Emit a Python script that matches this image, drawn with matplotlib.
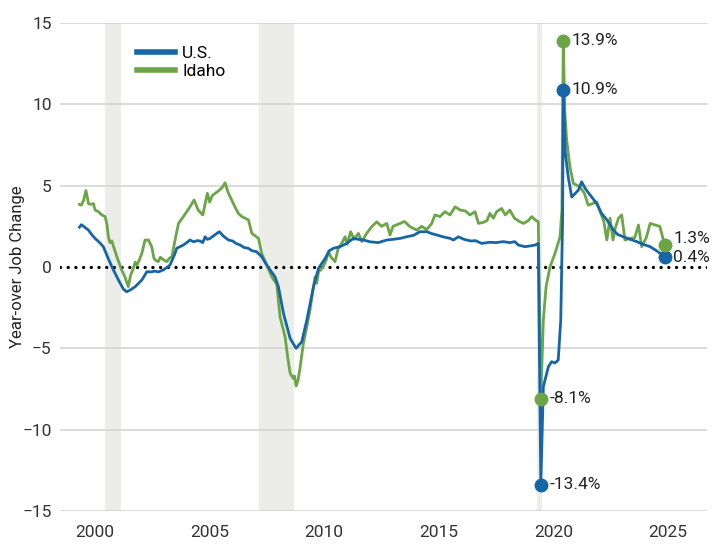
import matplotlib.pyplot as plt
import numpy as np

# year-over-year job change (%), positions
us_year = [1999.32, 1999.4, 1999.5, 1999.71, 1999.85, 2000.0, 2000.2, 2000.36, 2000.51, 2000.73,
           2001.02, 2001.24, 2001.38, 2001.55, 2001.75, 2002.04, 2002.26, 2002.46, 2002.6, 2002.76,
           2002.98, 2003.27, 2003.49, 2003.56, 2003.85, 2004.0, 2004.14, 2004.3, 2004.45, 2004.58,
           2004.7, 2004.8, 2004.9, 2005.02, 2005.2, 2005.42, 2005.6, 2005.82, 2006.0, 2006.15,
           2006.33, 2006.5, 2006.69, 2006.85, 2007.05, 2007.27, 2007.49, 2007.7, 2007.85, 2008.0,
           2008.22, 2008.51, 2008.77, 2009.02, 2009.24, 2009.53, 2009.75, 2010.04, 2010.22, 2010.4,
           2010.69, 2010.98, 2011.27, 2011.5, 2011.71, 2012.0, 2012.36, 2012.73, 2013.0, 2013.31,
           2013.6, 2013.9, 2014.18, 2014.47, 2014.7, 2014.91, 2015.2, 2015.49, 2015.64, 2015.85,
           2016.1, 2016.4, 2016.6, 2016.87, 2017.2, 2017.5, 2017.81, 2018.1, 2018.31, 2018.47,
           2018.76, 2019.0, 2019.2, 2019.34, 2019.45, 2019.56, 2019.78, 2019.92, 2020.07, 2020.21,
           2020.32, 2020.40, 2020.43, 2020.52, 2020.65, 2020.8, 2021.09, 2021.23, 2021.4, 2021.6,
           2021.89, 2022.1, 2022.33, 2022.62, 2022.8, 2023.05, 2023.35, 2023.64, 2023.9, 2024.22,
           2024.5, 2024.8, 2024.87]
us_val = [2.45, 2.6, 2.5, 2.27, 2.0, 1.76, 1.5, 1.25, 0.74, 0.02,
          -0.8, -1.37, -1.52, -1.4, -1.21, -0.8, -0.29, -0.3, -0.25, -0.3,
          -0.18, 0.12, 0.84, 1.15, 1.35, 1.5, 1.66, 1.55, 1.62, 1.6,
          1.5, 1.86, 1.7, 1.76, 1.95, 2.17, 1.9, 1.66, 1.6, 1.45,
          1.35, 1.2, 1.15, 1.0, 0.94, 0.63, 0.12, -0.3, -0.6, -1.21,
          -2.85, -4.38, -5.0, -4.59, -3.26, -1.21, -0.08, 0.53, 1.0, 1.15,
          1.25, 1.45, 1.76, 1.7, 1.66, 1.55, 1.5, 1.66, 1.7, 1.76,
          1.86, 1.95, 2.17, 2.17, 2.05, 1.97, 1.85, 1.76, 1.66, 1.86,
          1.7, 1.6, 1.62, 1.45, 1.52, 1.5, 1.56, 1.5, 1.56, 1.35,
          1.25, 1.3, 1.35, 1.45, -13.4, -7.36, -6.13, -5.82, -5.9, -5.72,
          -3.26, 2.9, 10.9, 7.0, 5.5, 4.3, 4.73, 5.24, 4.8, 4.43,
          3.9, 3.3, 2.9, 2.27, 2.0, 1.86, 1.7, 1.56, 1.4, 1.25,
          1.0, 0.7, 0.6]

id_year = [1999.32, 1999.4, 1999.5, 1999.6, 1999.66, 1999.71, 1999.8, 1999.93, 2000.0, 2000.15,
           2000.29, 2000.44, 2000.52, 2000.58, 2000.65, 2000.73, 2000.95, 2001.16, 2001.3, 2001.45,
           2001.55, 2001.67, 2001.75, 2001.82, 2001.92, 2002.04, 2002.18, 2002.33, 2002.47, 2002.57,
           2002.66, 2002.76, 2002.85, 2002.98, 2003.13, 2003.25, 2003.35, 2003.49, 2003.64, 2003.75,
           2003.85, 2004.0, 2004.14, 2004.32, 2004.5, 2004.7, 2004.9, 2005.0, 2005.12, 2005.24,
           2005.4, 2005.55, 2005.67, 2005.8, 2005.96, 2006.1, 2006.25, 2006.4, 2006.54, 2006.69,
           2006.84, 2007.0, 2007.13, 2007.27, 2007.49, 2007.71, 2007.85, 2007.93, 2008.07, 2008.29,
           2008.4, 2008.51, 2008.65, 2008.7, 2008.77, 2008.85, 2008.94, 2009.09, 2009.25, 2009.38,
           2009.5, 2009.6, 2009.67, 2009.75, 2009.82, 2009.96, 2010.1, 2010.18, 2010.3, 2010.47,
           2010.6, 2010.76, 2010.91, 2011.0, 2011.15, 2011.3, 2011.49, 2011.64, 2011.85, 2012.07,
           2012.29, 2012.5, 2012.73, 2012.87, 2013.0, 2013.31, 2013.5, 2013.74, 2014.04, 2014.25,
           2014.47, 2014.69, 2014.83, 2015.05, 2015.27, 2015.49, 2015.71, 2015.93, 2016.15, 2016.36,
           2016.58, 2016.73, 2016.95, 2017.1, 2017.23, 2017.38, 2017.52, 2017.74, 2017.9, 2018.1,
           2018.3, 2018.54, 2018.7, 2018.9, 2019.05, 2019.2, 2019.34, 2019.45, 2019.56, 2019.68,
           2019.85, 2020.07, 2020.29, 2020.37, 2020.43, 2020.5, 2020.58, 2020.72, 2020.87, 2021.16,
           2021.35, 2021.52, 2021.7, 2021.89, 2022.04, 2022.2, 2022.33, 2022.47, 2022.6, 2022.7,
           2022.84, 2022.98, 2023.12, 2023.3, 2023.55, 2023.71, 2023.85, 2024.05, 2024.22, 2024.64,
           2024.8, 2024.87]
id_val = [3.85, 3.8, 4.1, 4.7, 4.3, 3.9, 3.85, 3.9, 3.5, 3.4,
          3.2, 3.1, 2.6, 1.86, 1.5, 1.6, 0.63, -0.18, -0.6, -1.21,
          -0.5, -0.08, 0.3, 0.1, 0.4, 0.84, 1.66, 1.66, 1.25, 0.53,
          0.4, 0.33, 0.6, 0.45, 0.33, 0.55, 0.63, 1.66, 2.68, 2.9,
          3.1, 3.4, 3.7, 4.12, 3.5, 3.2, 4.53, 4.0, 4.4, 4.53,
          4.7, 4.9, 5.18, 4.6, 4.12, 3.7, 3.3, 3.1, 3.0, 2.9,
          2.07, 1.9, 1.76, 0.84, 0.12, -0.6, -0.9, -1.1, -3.05, -4.28,
          -5.5, -6.53, -6.85, -6.7, -7.31, -7.0, -6.23, -4.69, -3.6, -2.64,
          -1.5, -0.6, -1.0, -0.3, -0.2, 0.02, 0.5, 0.94, 0.6, 0.33,
          1.1, 1.45, 1.86, 1.4, 2.17, 1.7, 2.07, 1.56, 2.07, 2.48,
          2.78, 2.5, 2.68, 1.97, 2.5, 2.68, 2.8, 2.48, 2.27, 2.5,
          2.3, 2.68, 3.2, 3.1, 3.4, 3.2, 3.7, 3.5, 3.45, 3.2,
          3.4, 2.68, 2.75, 2.85, 3.3, 3.0, 3.4, 3.6, 3.2, 3.5,
          3.0, 2.78, 2.68, 2.85, 3.1, 2.9, 2.78, -8.1, -3.26, -1.21,
          0.0, 0.84, 1.86, 3.5, 13.9, 9.5, 7.8, 6.16, 5.14, 4.93,
          4.53, 3.8, 3.9, 4.0, 3.4, 2.8, 1.66, 3.0, 1.66, 2.4,
          3.0, 3.2, 1.66, 1.75, 1.8, 2.58, 1.25, 1.8, 2.68, 2.5,
          1.66, 1.35]

recessions = [(2000.44, 2001.12), (2007.17, 2008.69), (2019.27, 2019.49)]
yticks = [-15, -10, -5, 0, 5, 10, 15]
xticks = [2000, 2005, 2010, 2015, 2020, 2025]

# highlighted points: (series, year, value, label)
callouts = [("id", 2020.43, 13.9, "13.9%"), ("us", 2020.43, 10.9, "10.9%"),
            ("id", 2019.45, -8.1, "-8.1%"), ("us", 2019.45, -13.4, "-13.4%"),
            ("id", 2024.87, 1.35, "1.3%"), ("us", 2024.87, 0.6, "0.4%")]

blue = "#1565a7"
green = "#6aa645"

plt.rcParams['font.family'] = ['Roboto', 'DejaVu Sans']

fig = plt.figure(figsize=(7.17, 5.48), dpi=100)
ax = fig.add_axes([0.0837, 0.0675, 0.9023, 0.8905])

for a, b in recessions:
    ax.axvspan(a, b, color="#ecece8", lw=0, zorder=0)

ax.set_ylim(-15, 15)
ax.set_xlim(1998.47, 2026.7)
ax.set_yticks(yticks)
ax.set_xticks(xticks)
# grid lines everywhere except at zero, which gets the dotted line
for t in yticks:
    if t != 0:
        ax.axhline(t, color="#d4d4d4", lw=1.2, zorder=0.5)
ax.axhline(0, color="black", lw=2.4, ls=(0, (0.01, 2.3)), dash_capstyle="round", zorder=1)

for s in ax.spines.values():
    s.set_visible(False)
ax.tick_params(length=0, labelsize=12.5, colors="#333333", pad=6)
ax.tick_params(axis="x", pad=10)

ax.plot(us_year, us_val, color=blue, lw=2.0, label="U.S.", zorder=3)
ax.plot(id_year, id_val, color=green, lw=2.0, label="Idaho", zorder=2)

for ser, x, y, txt in callouts:
    c = blue if ser == "us" else green
    z = 4 if ser == "us" else 5
    ax.plot([x], [y], "o", color=c, ms=9, zorder=z)
    dy = 0
    if txt == "1.3%":
        dy = 5
    ax.annotate(txt, (x, y), xytext=(6, dy), textcoords="offset points",
                va="center", ha="left", fontsize=12.5, color="#222222", zorder=6)

ax.set_ylabel("Year-over Job Change", fontsize=12, color="#222222")
ax.yaxis.set_label_coords(-0.054, 0.5)

leg = ax.legend(loc="upper left", bbox_to_anchor=(0.095, 0.985), frameon=False,
                fontsize=12.5, handlelength=2.2, handletextpad=0.4, labelspacing=0.15)
for line in leg.get_lines():
    line.set_linewidth(4)

fig.savefig("out.png", dpi=100)
